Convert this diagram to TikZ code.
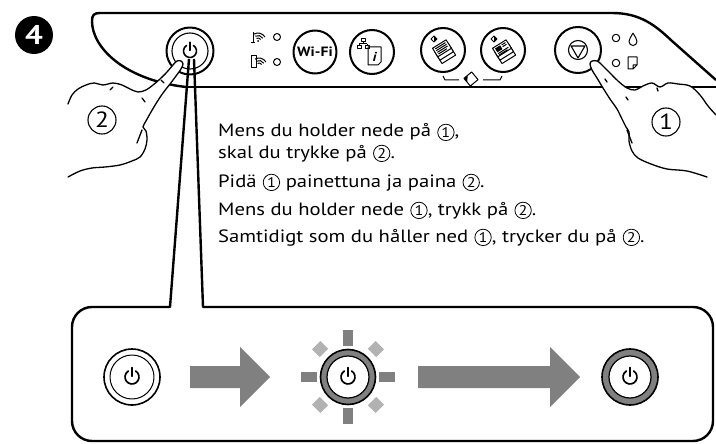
\documentclass[tikz,border=0pt]{standalone}
\usepackage{fontspec}
\usepackage{pict2e}
\setmainfont{PT Sans}[FakeStretch=1.16]
\usetikzlibrary{calc}

% thin circled digit inside running text
\newcommand\cnum[1]{\mbox{\kern1pt\begin{picture}(16.6,10)%
  \linethickness{0.8pt}%
  \put(8.3,4.6){\circle{16.4}}%
  \put(8.3,4.6){\makebox(0,0){\fontsize{14}{14}\selectfont #1}}%
  \end{picture}\kern0.5pt}}
% one power symbol centred on a point
\newcommand\powersym[3]{% centre, radius, line width
  \draw[line width=#3, line cap=round] ($(#1)+(-58:#2)$) arc (-58:238:#2);
  \draw[line width=#3, line cap=round] ($(#1)+(0,-1.35*#2)$) -- ($(#1)+(0,-0.1*#2)$);
}

\begin{document}
\setlength{\unitlength}{1pt}
\begin{tikzpicture}[x=1pt,y=-1pt,line join=round,
  panelline/.style={line width=2.4pt},
  btnring/.style={circle,draw,line width=2pt,fill=white,inner sep=0pt},
  handline/.style={line width=1.3pt,line cap=round},
  iconline/.style={line width=1pt},
  bodytext/.style={anchor=base west,inner sep=0pt,font=\fontsize{17.8}{21}\selectfont},
  biglabel/.style={circle,draw,line width=1.1pt,inner sep=0pt,minimum size=28pt,font=\fontsize{22}{22}\selectfont},
  arrowgray/.style={fill=black!50},
  raydark/.style={fill=black!50},
  raylight/.style={fill=black!30},
]
\useasboundingbox (0,0) rectangle (716,444);

% step badge
\node[circle,fill=black,minimum size=38pt,inner sep=0pt,text=white,
      font=\bfseries\fontsize{27}{27}\selectfont] (step) at (34,35) {4};

% control panel outline
\draw[panelline] (186,87) .. controls (125,80) and (92,48) .. (92,21)
  .. controls (92,15) and (94,13) .. (100,13) -- (612,13)
  .. controls (640,13) and (655,25) .. (672,41) -- (716,80);
\draw[panelline] (186,87) -- (716,87);

% power button
\node[btnring,minimum size=47pt] (bpower) at (190,51) {};
\draw[line width=1.1pt] (bpower.center) circle (18);
\powersym{bpower.center}{6.5}{1.6pt}

% network status lamps
\node[circle,draw,iconline,minimum size=7pt,inner sep=0pt] (lampa) at (277,37) {};
\node[circle,draw,iconline,minimum size=7pt,inner sep=0pt] (lampb) at (277,62) {};
\begin{scope}[iconline]
  % access point symbol
  \draw (253,32) -- (253,43) (251,43) -- (255,43);
  \foreach \r in {3,5.5,8} \draw (258,41) ++(-120:\r) arc (-120:-30:\r);
  \fill (258,41) circle (1);
  % phone symbol
  \draw (251,56) rectangle (256,68);
  \foreach \r in {3,5.5,8} \draw (259,66) ++(-120:\r) arc (-120:-30:\r);
\end{scope}

% Wi-Fi button
\node[btnring,minimum size=43pt,font=\bfseries\fontsize{13.5}{13.5}\selectfont] (bwifi) at (315,52) {Wi-Fi};

% network info button
\node[btnring,minimum size=44pt] (binfo) at (372,52) {};
\begin{scope}[iconline]
  \draw (361,39) rectangle (365,42);
  \draw (363,42) -- (363,44) (359,44) -- (367,44) (359,44) -- (359,46) (367,44) -- (367,46);
  \draw (357,46) rectangle (361,49) (365,46) rectangle (369,49);
  \draw (368,47) -- (381,47) -- (381,62) -- (378,65) -- (368,65) -- cycle;
  \node[inner sep=0pt,font=\bfseries\itshape\fontsize{13}{13}\selectfont] (infoi) at (374.5,56.5) {i};
\end{scope}

% copy buttons
\node[btnring,minimum size=44pt] (bmono) at (443,50) {};
\node[btnring,minimum size=44pt] (bcolor) at (503,50) {};
\foreach \b/\c in {bmono/0,bcolor/1}{
  \begin{scope}[shift={(\b.center)},iconline]
    \draw (-12,-11) -- (-9,-14) -- (-6,-11) -- (-9,-8) -- cycle;
    \fill (-9,-14) -- (-6,-11) -- (-9,-8) -- cycle;
    \foreach \dy in {7,3,-1}{
      \filldraw[fill=white,rotate=32] (-8,\dy-6) rectangle (8,\dy+4);
    }
    \begin{scope}[rotate=32]
      \ifnum\c=0
        \draw (-6,-5) -- (6,-5) (-6,-3) -- (6,-3) (-6,-1) -- (6,-1) (-6,1) -- (4,1);
      \else
        \fill (-6,-5.5) rectangle (0,-1);
        \draw (1.5,-5) -- (6,-5) (1.5,-3) -- (6,-3) (-6,0.5) -- (6,0.5) (-6,2.2) -- (4,2.2);
      \fi
    \end{scope}
  \end{scope}
}
\draw[iconline] (443,76) -- (445,80) -- (459,80) (483,80) -- (500,80) -- (502,76);
\draw[iconline,rotate around={40:(471,79)}] (466,74) rectangle (476,84);
\fill[rotate around={40:(471,79)}] (466,74) -- (471,74) -- (466,79) -- cycle;

% stop button and status lamps
\node[btnring,minimum size=46pt] (bstop) at (578,50) {};
\draw[line width=1.1pt] (bstop.center) circle (9.5);
\draw[line width=1.1pt] ($(bstop.center)+(90:8)$) -- ($(bstop.center)+(210:8)$) -- ($(bstop.center)+(330:8)$) -- cycle;
\node[circle,draw,iconline,minimum size=7.5pt,inner sep=0pt] (lampink) at (616,38) {};
\node[circle,draw,iconline,minimum size=7.5pt,inner sep=0pt] (lamppaper) at (616,63) {};
\draw[iconline] (633,33) .. controls (631,37) and (629,39) .. (629,41.5)
  .. controls (629,44) and (631,45.5) .. (633,45.5) .. controls (635,45.5) and (637,44) .. (637,41.5)
  .. controls (637,39) and (635,37) .. (633,33);
\draw[iconline] (628,57) -- (628,69) -- (633,69) -- (637,65) -- (637,57) -- cycle (633,69) -- (633,65) -- (637,65);

% hand pressing the stop button
\def\righthand{(716,115) (708,106) (700,95) (690,86) (678,84) (668,83) (660,87) (652,83) (643,86) (635,90) (627,88) (618,81) (609,72) (601,64) (597,61) (592,61) (590,64) (592,70) (597,78) (603,88) (610,99) (617,109) (622,119) (626,127) (629,132) (629,141) (632,151) (638,158) (651,164) (667,169) (687,171) (707,177)}
\fill[white] plot[smooth,tension=0.55] coordinates {\righthand} -- (716,177) -- cycle;
\draw[handline] plot[smooth,tension=0.55] coordinates {\righthand};
\draw[handline] (627,130) -- (632,143);
\draw[handline] (605,79) -- (607,82) (626,97) -- (628,100) (657,88) -- (658,91);

% hand pressing the power button
\def\lefthand{(68,104) (72,95) (78,89) (86,85) (94,83) (103,85) (113,83) (122,85) (130,89) (138,92) (146,90) (153,85) (160,79) (167,72) (173,65) (177,61) (181,61) (183,64) (181,69) (176,76) (170,84) (163,93) (157,102) (151,112) (146,121) (143,127) (146,131) (147,140) (145,149) (140,157) (132,161) (120,165) (105,167) (92,168) (80,171) (68,177)}
\fill[white] plot[smooth,tension=0.55] coordinates {\lefthand} -- cycle;
\draw[handline] plot[smooth,tension=0.55] coordinates {\lefthand};
\draw[handline] (142,130) -- (137,143);
\draw[handline] (161,80) -- (164,83) (142,98) -- (145,102) (110,90) -- (113,87);

% finger labels
\node[biglabel] (lbltwo) at (102,120) {2};
\node[biglabel] (lblone) at (666,122) {1};

% instructions
\node[bodytext] (txta) at (218,137) {Mens du holder nede på \cnum{1},};
\node[bodytext] (txtb) at (218,158) {skal du trykke på \cnum{2}.};
\node[bodytext] (txtc) at (218,187) {Pidä \cnum{1}\ painettuna ja paina \cnum{2}.};
\node[bodytext] (txtd) at (218,215) {Mens du holder nede \cnum{1}, trykk på \cnum{2}.};
\node[bodytext] (txte) at (218,242) {Samtidigt som du håller ned \cnum{1}, trycker du på \cnum{2}.};

% callout from the power button to the detail box
\coordinate (calla) at (189,59);
\coordinate (callb) at (194,59);
\coordinate (boxl) at (170,307);
\coordinate (boxr) at (203,307);
\draw[panelline] (calla) -- (boxl) -- (92,307) arc (-90:-180:20) -- (72,421) arc (180:90:20)
  -- (693,441) arc (90:0:20) -- (713,327) arc (0:-90:20) -- (boxr) -- (callb);

% detail: off, blinking, on
\node[circle,draw,line width=1.6pt,minimum size=56pt,inner sep=0pt] (offbtn) at (132,377) {};
\draw[line width=1pt] (offbtn.center) circle (22);
\powersym{offbtn.center}{7}{1.7pt}

\fill[arrowgray] (190,366) -- (240,366) -- (240,347) -- (270,377) -- (240,407) -- (240,388) -- (190,388) -- cycle;

\coordinate (blink) at (348,377);
\foreach \a in {0,90,180,270}
  \fill[raydark,rotate around={\a:(blink)}] ($(blink)+(31,-5)$) rectangle ($(blink)+(47,5)$);
\foreach \a in {45,135,225,315}
  \fill[raylight,rotate around={\a:(blink)}] ($(blink)+(34,-6)$) rectangle ($(blink)+(45,6)$);
\node[circle,draw,line width=1.6pt,fill=black!50,minimum size=55pt,inner sep=0pt] (blinkbtn) at (blink) {};
\draw[line width=1.2pt,fill=white] (blinkbtn.center) circle (21);
\powersym{blinkbtn.center}{7}{1.7pt}

\fill[arrowgray] (418,366) -- (550,366) -- (550,347) -- (580,377) -- (550,407) -- (550,388) -- (418,388) -- cycle;

\node[circle,draw,line width=1.6pt,fill=black!50,minimum size=56pt,inner sep=0pt] (onbtn) at (630,377) {};
\draw[line width=1.2pt,fill=white] (onbtn.center) circle (21);
\powersym{onbtn.center}{7}{1.7pt}
\end{tikzpicture}
\end{document}
